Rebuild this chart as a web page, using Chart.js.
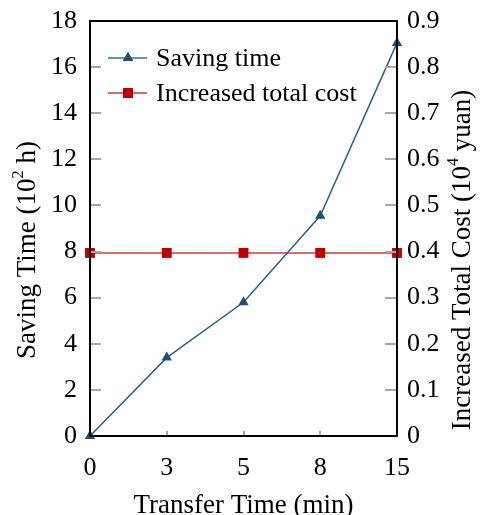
<!DOCTYPE html>
<html>
<head>
<meta charset="utf-8">
<script src="https://cdn.jsdelivr.net/npm/chart.js@4"></script>
<style>
  html, body { margin: 0; padding: 0; background: #fff; }
  #wrap { width: 480px; height: 515px; }
</style>
</head>
<body>
<div id="wrap"><canvas id="chart" width="480" height="515"></canvas></div>
<script>
// data
const transferTimes = ['0', '3', '5', '8', '15'];
const savingTime = [0, 3.4, 5.8, 9.55, 17.05];        // 10^2 h
const increasedCost = [0.397, 0.397, 0.397, 0.397, 0.397]; // 10^4 yuan
const leftTicks = [0, 2, 4, 6, 8, 10, 12, 14, 16, 18];
const rightTicks = [0, 0.1, 0.2, 0.3, 0.4, 0.5, 0.6, 0.7, 0.8, 0.9];

const FONT = 'Liberation Serif, Times New Roman, serif';
const BLUE = '#1f4e79';
const RED = '#c00000';

// draws text rotated -90deg with a small raised part
function drawVerticalTitle(ctx, parts, cx, cy, size) {
  ctx.save();
  ctx.translate(cx, cy);
  ctx.rotate(-Math.PI / 2);
  ctx.fillStyle = '#000';
  ctx.textBaseline = 'middle';
  ctx.textAlign = 'left';
  let total = 0;
  parts.forEach(p => {
    ctx.font = (p.sup ? size * 0.6 : size) + 'px ' + FONT;
    p.w = ctx.measureText(p.t).width;
    total += p.w;
  });
  let x = -total / 2;
  parts.forEach(p => {
    ctx.font = (p.sup ? size * 0.6 : size) + 'px ' + FONT;
    ctx.fillText(p.t, x, p.sup ? -size * 0.33 : 0);
    x += p.w;
  });
  ctx.restore();
}

const framePlugin = {
  id: 'frame',
  afterDatasetsDraw(chart) {
    const { ctx, chartArea: a, scales } = chart;
    ctx.save();
    // inward ticks
    ctx.strokeStyle = '#a6a6a6';
    ctx.lineWidth = 2;
    ctx.beginPath();
    leftTicks.slice(1, -1).forEach(v => {
      const y = Math.round(scales.y.getPixelForValue(v));
      ctx.moveTo(a.left, y); ctx.lineTo(a.left + 11, y);
    });
    rightTicks.slice(1, -1).forEach(v => {
      const y = Math.round(scales.y1.getPixelForValue(v));
      ctx.moveTo(a.right, y); ctx.lineTo(a.right - 12, y);
    });
    transferTimes.slice(1, -1).forEach((c, i) => {
      const x = Math.round(scales.x.getPixelForValue(i + 1));
      ctx.moveTo(x, a.bottom); ctx.lineTo(x, a.bottom - 5);
    });
    ctx.stroke();
    // frame
    ctx.strokeStyle = '#000';
    ctx.lineWidth = 2;
    ctx.strokeRect(a.left, a.top, a.right - a.left, a.bottom - a.top);
    ctx.restore();
  },
  afterDraw(chart) {
    const ctx = chart.ctx;
    // legend, top left inside the plot
    chart.data.datasets.forEach((ds, i) => {
      const y = 58 + i * 35;
      ctx.save();
      ctx.strokeStyle = ds.legendLine;
      ctx.lineWidth = 2;
      ctx.beginPath();
      ctx.moveTo(108, y); ctx.lineTo(147, y);
      ctx.stroke();
      Chart.helpers.drawPoint(ctx, {
        pointStyle: ds.pointStyle, radius: ds.pointRadius, borderWidth: 0
      }, 128, y);
      ctx.fillStyle = ds.pointBackgroundColor;
      ctx.fill();
      ctx.fillStyle = '#000';
      ctx.font = '26px ' + FONT;
      ctx.textBaseline = 'middle';
      ctx.fillText(ds.label, 156, y + 1);
      ctx.restore();
    });
    drawVerticalTitle(ctx, [{ t: 'Saving Time (10' }, { t: '2', sup: true }, { t: ' h)' }], 28, 250, 27);
    drawVerticalTitle(ctx, [{ t: 'Increased Total Cost (10' }, { t: '4', sup: true }, { t: ' yuan)' }], 463, 260, 27);
  }
};

new Chart(document.getElementById('chart'), {
  type: 'line',
  data: {
    labels: transferTimes,
    datasets: [
      {
        label: 'Saving time',
        data: savingTime,
        yAxisID: 'y',
        borderColor: '#2c5f8e',
        borderWidth: 1.5,
        pointStyle: 'triangle',
        pointRadius: 6,
        pointBorderWidth: 0,
        pointBackgroundColor: BLUE,
        legendLine: '#6f8fb2',
        clip: false
      },
      {
        label: 'Increased total cost',
        data: increasedCost,
        yAxisID: 'y1',
        borderColor: '#d23a3a',
        borderWidth: 1.5,
        pointStyle: 'rect',
        pointRadius: 7,
        pointBorderWidth: 0,
        pointBackgroundColor: RED,
        legendLine: '#e06666',
        clip: false
      }
    ]
  },
  options: {
    responsive: false,
    animation: false,
    layout: { padding: { top: 21, left: 0, right: 0, bottom: 0 } },
    plugins: { legend: { display: false }, tooltip: { enabled: false } },
    scales: {
      x: {
        offset: false,
        grid: { display: false, drawTicks: false },
        border: { display: false },
        ticks: { color: '#000', font: { family: FONT, size: 26 }, padding: 17, maxRotation: 0 },
        title: { display: true, text: 'Transfer Time (min)', color: '#000',
          font: { family: FONT, size: 27, lineHeight: 1 }, padding: { top: 0, bottom: -4 } },
        afterFit(s) { s.height = 79; s.paddingLeft = 0; s.paddingRight = 0; }
      },
      y: {
        position: 'left',
        min: 0, max: 18,
        grid: { display: false, drawTicks: false },
        border: { display: false },
        ticks: { stepSize: 2, color: '#000', font: { family: FONT, size: 26 }, padding: 13 },
        afterBuildTicks(s) { s.ticks = leftTicks.map(v => ({ value: v })); },
        afterFit(s) { s.width = 90; s.paddingTop = 0; s.paddingBottom = 0; }
      },
      y1: {
        position: 'right',
        min: 0, max: 0.9,
        grid: { display: false, drawTicks: false },
        border: { display: false },
        ticks: {
          color: '#000', font: { family: FONT, size: 26 }, padding: 10,
          callback: v => v === 0 ? '0' : v.toFixed(1)
        },
        afterBuildTicks(s) { s.ticks = rightTicks.map(v => ({ value: v })); },
        afterFit(s) { s.width = 83; s.paddingTop = 0; s.paddingBottom = 0; }
      }
    }
  },
  plugins: [framePlugin]
});
</script>
</body>
</html>
